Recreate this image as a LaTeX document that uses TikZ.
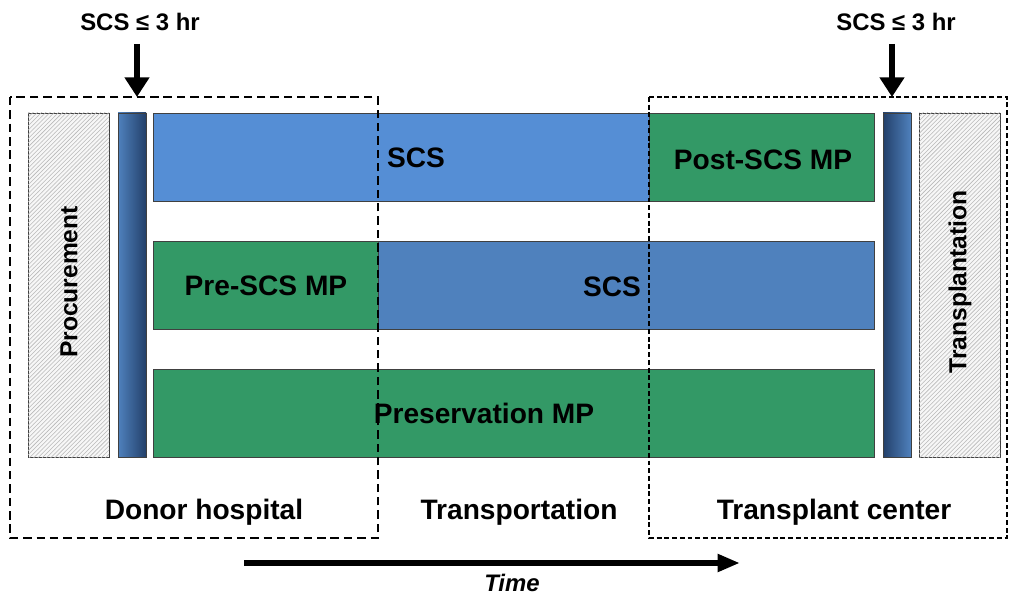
\documentclass[tikz,border=0pt]{standalone}
\usepackage{fontspec}
\setmainfont{Liberation Sans}
\usetikzlibrary{patterns,arrows.meta}

\definecolor{scsblue}{HTML}{558ED5}
\definecolor{scssteel}{HTML}{4F81BD}
\definecolor{mpgreen}{HTML}{339966}
\definecolor{barlight}{HTML}{4F81BD}
\definecolor{bardark}{HTML}{23406A}

\tikzset{
  stage/.style={draw=black!75, thin},
  hatchbox/.style={stage, fill=gray!6, postaction={pattern=north east lines, pattern color=gray!55}},
  boxlabel/.style={font=\fontsize{20}{24}\selectfont\bfseries},
  sidelabel/.style={font=\fontsize{17.5}{21}\selectfont\bfseries, rotate=90},
  placelabel/.style={font=\fontsize{20}{24}\selectfont\bfseries},
  toplabel/.style={font=\fontsize{17}{20}\selectfont\bfseries},
  zone/.style={dash pattern=on 6pt off 3.5pt, line width=1.5pt},
  downarrow/.style={line width=4pt, -{Triangle[length=14pt,width=17pt]}},
  timearrow/.style={line width=4pt, -{Triangle[length=16pt,width=12pt]}}
}

\begin{document}
\begin{tikzpicture}[x=0.025cm, y=-0.025cm]
\useasboundingbox (0,0) rectangle (1009,597);

% side blocks
\draw[hatchbox] (28,113) rectangle (109,457);
\draw[hatchbox] (919,113) rectangle (1000,457);
\draw[stage, left color=barlight, right color=bardark] (118,113) rectangle (146,457);
\draw[stage, left color=bardark, right color=barlight] (883,113) rectangle (911,457);

% three strategies
\draw[stage, fill=scsblue] (153,113) rectangle (649,201);
\draw[stage, fill=mpgreen] (649,113) rectangle (874,201);
\draw[stage, fill=mpgreen] (153,241) rectangle (378,329);
\draw[stage, fill=scssteel] (378,241) rectangle (874,329);
\draw[stage, fill=mpgreen] (153,369) rectangle (874,457);

% locations
\draw[zone] (10,97) rectangle (378,538);
\draw[zone, dash pattern=on 3.5pt off 2pt, line width=1.1pt] (649,97) rectangle (1007,538);

\node[boxlabel] (scsA) at (416,158) {SCS};
\node[boxlabel] (postmp) at (763,160) {Post-SCS MP};
\node[boxlabel] (premp) at (266,286) {Pre-SCS MP};
\node[boxlabel] (scsB) at (612,287) {SCS};
\node[boxlabel] (presmp) at (484,413) {Preservation MP};
\node[sidelabel] (procure) at (69,282) {Procurement};
\node[sidelabel] (transpl) at (960,282) {Transplantation};

\node[placelabel] (donor) at (204,512) {Donor hospital};
\node[placelabel] (transport) at (519,512) {Transportation};
\node[placelabel] (center) at (834,512) {Transplant center};

% cold storage limit
\node[toplabel] (limitA) at (140,22) {SCS ≤ 3 hr};
\node[toplabel] (limitB) at (896,22) {SCS ≤ 3 hr};
\coordinate (hospin) at (137,97);
\coordinate (centerin) at (892,97);
\draw[downarrow] (limitA.south -| hospin) ++(0,8) -- (hospin);
\draw[downarrow] (limitB.south -| centerin) ++(0,8) -- (centerin);

% time axis
\coordinate (tstart) at (244,563);
\coordinate (tend) at (740,563);
\draw[timearrow] (tstart) -- (tend);
\node[font=\fontsize{17}{20}\selectfont\bfseries\itshape] (time) at (512,583) {Time};
\end{tikzpicture}
\end{document}
